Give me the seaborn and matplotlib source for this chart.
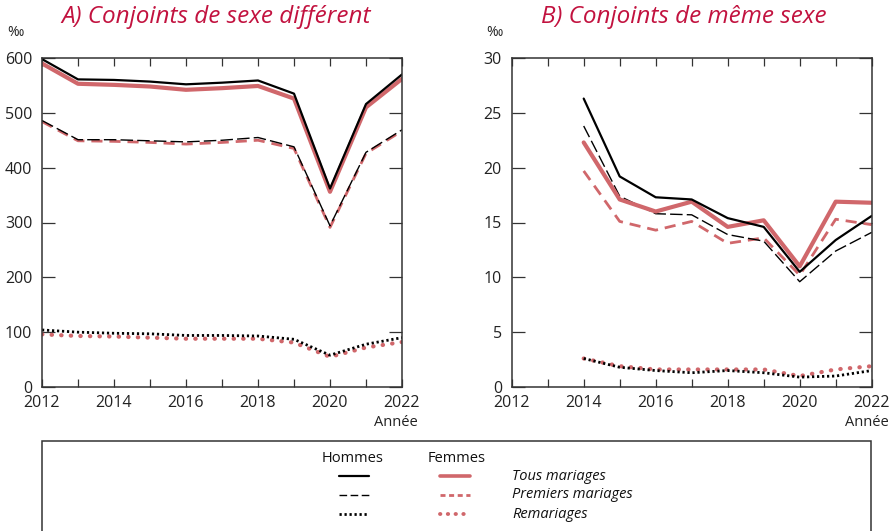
import matplotlib
matplotlib.use("Agg")
import matplotlib.pyplot as plt
import seaborn as sns
import pandas as pd
from matplotlib.lines import Line2D
from matplotlib.patches import Rectangle

sns.set_theme(style="white")
plt.rcParams['font.family'] = ['Open Sans', 'DejaVu Sans']

# ---- Data ----
years_a = [2012, 2013, 2014, 2015, 2016, 2017, 2018, 2019, 2020, 2021, 2022]
a_h_tous = [598, 561, 560, 557, 552, 555, 559, 535, 362, 516, 570]
a_f_tous = [590, 553, 551, 548, 542, 545, 549, 526, 356, 510, 562]
a_h_prem = [486, 451, 451, 449, 447, 450, 455, 438, 294, 428, 469]
a_f_prem = [484, 449, 448, 446, 443, 446, 450, 435, 291, 426, 467]
a_h_rem = [104, 100, 98, 97, 94, 94, 93, 87, 58, 78, 90]
a_f_rem = [96, 93, 92, 90, 88, 88, 88, 81, 55, 72, 82]

years_b = [2014, 2015, 2016, 2017, 2018, 2019, 2020, 2021, 2022]
b_h_tous = [26.3, 19.2, 17.3, 17.1, 15.4, 14.6, 10.5, 13.4, 15.6]
b_f_tous = [22.3, 17.1, 16.0, 16.9, 14.6, 15.2, 11.0, 16.9, 16.8]
b_h_prem = [23.8, 17.4, 15.8, 15.7, 13.9, 13.3, 9.6, 12.4, 14.1]
b_f_prem = [19.7, 15.1, 14.3, 15.1, 13.1, 13.6, 10.2, 15.3, 14.8]
b_h_rem = [2.6, 1.8, 1.5, 1.3, 1.5, 1.3, 0.9, 1.0, 1.5]
b_f_rem = [2.6, 1.9, 1.6, 1.6, 1.6, 1.6, 1.0, 1.6, 1.9]

titles = ["A) Conjoints de sexe différent", "B) Conjoints de même sexe"]
xticks = [2012, 2014, 2016, 2018, 2020, 2022]
legend_labels = ["Tous mariages", "Premiers mariages", "Remariages"]

BLACK = "#000000"
RED = "#d0676b"
TITLE_RED = "#c2123f"
SPINE = "#333333"

styles = {
    "h_tous": dict(color=BLACK, lw=1.6, ls="-"),
    "f_tous": dict(color=RED, lw=3.0, ls="-"),
    "h_prem": dict(color=BLACK, lw=1.0, ls=(0, (9, 3))),
    "f_prem": dict(color=RED, lw=2.0, ls=(0, (4, 2.5))),
    "h_rem": dict(color=BLACK, lw=2.0, ls=(0, (0.8, 1.0)), dash_capstyle="butt"),
    "f_rem": dict(color=RED, lw=3.0, ls=(0, (0.1, 2.2)), dash_capstyle="round"),
}
legend_styles = dict(styles)
legend_styles["h_prem"] = dict(color=BLACK, lw=1.0, ls=(0, (5.5, 2.5)))
legend_styles["f_prem"] = dict(color=RED, lw=2.0, ls=(0, (1.8, 1.3)))
legend_styles["f_tous"] = dict(color=RED, lw=2.6, ls="-")
legend_styles["f_rem"] = dict(color=RED, lw=2.8, ls=(0, (0.1, 1.9)), dash_capstyle="round")

W, H = 894, 531
fig = plt.figure(figsize=(W / 100, H / 100), dpi=100)

def fx(px):
    return px / W

def fy(py):
    return 1 - py / H

axA = fig.add_axes([fx(42), fy(387), fx(402) - fx(42), fy(58) - fy(387)])
axB = fig.add_axes([fx(511.7), fy(387), fx(871.7) - fx(511.7), fy(58) - fy(387)])

panels = [
    (axA, years_a, [("f_rem", a_f_rem), ("h_rem", a_h_rem), ("f_prem", a_f_prem), ("h_prem", a_h_prem),
                    ("f_tous", a_f_tous), ("h_tous", a_h_tous)], (0, 600), range(0, 601, 100)),
    (axB, years_b, [("f_rem", b_f_rem), ("h_rem", b_h_rem), ("f_prem", b_f_prem), ("h_prem", b_h_prem),
                    ("f_tous", b_f_tous), ("h_tous", b_h_tous)], (0, 30), range(0, 31, 5)),
]

for i, (ax, yrs, series, ylim, yticks) in enumerate(panels):
    for key, vals in series:
        df = pd.DataFrame({"Année": yrs, "val": vals})
        st = dict(styles[key])
        ls = st.pop("ls")
        lw = st.pop("lw")
        color = st.pop("color")
        sns.lineplot(data=df, x="Année", y="val", ax=ax, color=color, linewidth=lw,
                     linestyle=ls, **st)
    ax.set_xlim(2012, 2022)
    ax.set_ylim(*ylim)
    ax.set_xticks(range(2012, 2023))
    ax.set_xticklabels([str(y) if y in xticks else "" for y in range(2012, 2023)])
    ax.set_yticks(list(yticks))
    ax.set_xlabel("")
    ax.set_ylabel("")
    ax.tick_params(axis="x", direction="in", top=True, bottom=True, length=5.5, width=0.9,
                   color=SPINE, labelsize=11.5, pad=6, labelcolor="#222222")
    ax.tick_params(axis="y", direction="in", left=True, right=True, length=9.5, width=0.9,
                   color=SPINE, labelsize=11.5, pad=7, labelcolor="#222222")
    for s in ax.spines.values():
        s.set_color(SPINE)
        s.set_linewidth(1.1)
        s.set_visible(True)
    ax.grid(False)
    ax.set_facecolor("white")

fig.text(fx(216), fy(17), titles[0], color=TITLE_RED, fontsize=17.5, style="italic",
         ha="center", va="center")
fig.text(fx(684), fy(17), titles[1], color=TITLE_RED, fontsize=17.5, style="italic",
         ha="center", va="center")
fig.text(fx(7), fy(33), "‰", fontsize=10, ha="left", va="center", color="#222222")
fig.text(fx(486), fy(33), "‰", fontsize=10, ha="left", va="center", color="#222222")
fig.text(fx(418), fy(423), "Année", fontsize=10.5, ha="right", va="center", color="#222222")
fig.text(fx(889), fy(423), "Année", fontsize=10.5, ha="right", va="center", color="#222222")

# Legend box
fig.patches.append(Rectangle((fx(42), fy(545)), fx(871) - fx(42), fy(441) - fy(545),
                             transform=fig.transFigure, fill=False, edgecolor=SPINE,
                             linewidth=1.1, clip_on=False))
fig.text(fx(353), fy(459), "Hommes", fontsize=10.5, ha="center", va="center", color="#111111")
fig.text(fx(457), fy(459), "Femmes", fontsize=10.5, ha="center", va="center", color="#111111")
rows_y = [476, 495, 514]
hkeys = ["h_tous", "h_prem", "h_rem"]
fkeys = ["f_tous", "f_prem", "f_rem"]
for ry, hk, fk, lab in zip(rows_y, hkeys, fkeys, legend_labels):
    for key, x0, x1 in [(hk, 339, 369), (fk, 440, 470)]:
        st = dict(legend_styles[key])
        ls = st.pop("ls")
        lw = st.pop("lw")
        color = st.pop("color")
        fig.add_artist(Line2D([fx(x0), fx(x1)], [fy(ry), fy(ry)], transform=fig.transFigure,
                              color=color, linewidth=lw, linestyle=ls, **st))
    fig.text(fx(512), fy(ry), lab, fontsize=10.5, style="italic", ha="left", va="center",
             color="#111111")

fig.savefig("out.png", dpi=100)
